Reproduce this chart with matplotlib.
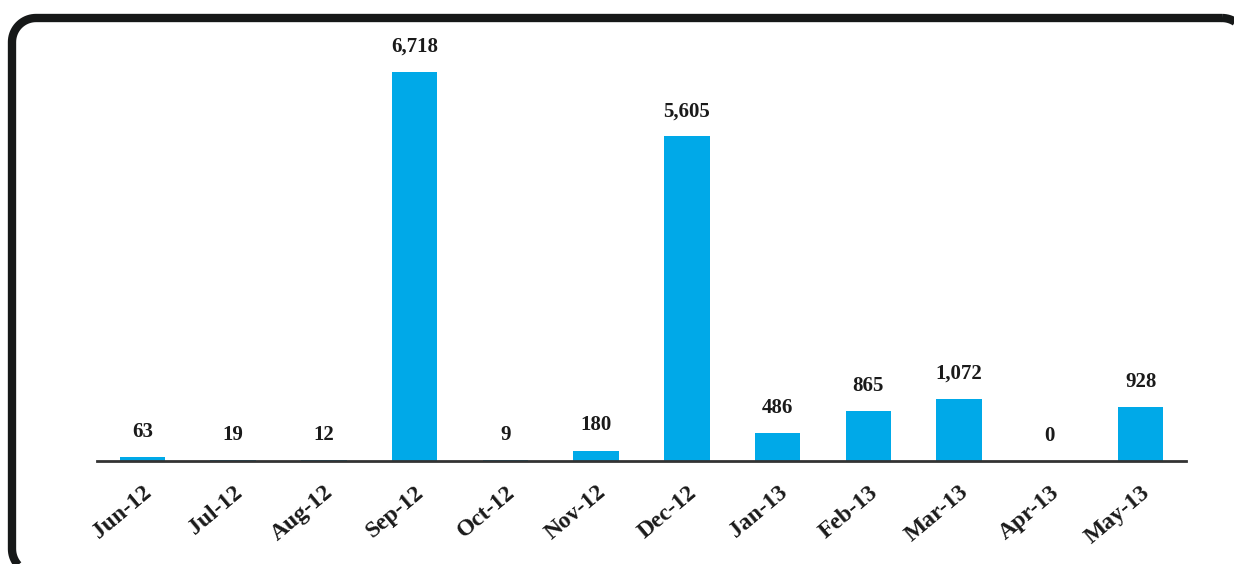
import numpy as np
import matplotlib.pyplot as plt
from matplotlib.path import Path
from matplotlib.patches import PathPatch

# data
months = ["Jun-12", "Jul-12", "Aug-12", "Sep-12", "Oct-12", "Nov-12",
          "Dec-12", "Jan-13", "Feb-13", "Mar-13", "Apr-13", "May-13"]
values = [63, 19, 12, 6718, 9, 180, 5605, 486, 865, 1072, 0, 928]

bar_color = "#00a9e8"
W, H = 1234, 564

fig = plt.figure(figsize=(W / 100, H / 100), dpi=100)
fig.patch.set_facecolor("white")

# rounded frame in pixel coords (y measured from top), runs off right/bottom
def rounded_box(x0, y0, x1, y1, r):
    pts = []
    corners = [(x1 - r, y0 + r, -90, 0), (x1 - r, y1 - r, 0, 90),
               (x0 + r, y1 - r, 90, 180), (x0 + r, y0 + r, 180, 270)]
    for cx, cy, a0, a1 in corners:
        t = np.radians(np.linspace(a0, a1, 20))
        pts += list(zip(cx + r * np.cos(t), cy + r * np.sin(t)))
    pts.append(pts[0])
    return Path(pts)

bg = fig.add_axes([0, 0, 1, 1], zorder=0)
bg.set_xlim(0, W)
bg.set_ylim(H, 0)
bg.axis("off")
bg.add_patch(PathPatch(rounded_box(12, 18, 1246, 573, 24), facecolor="none",
                       edgecolor="#161818", linewidth=6, joinstyle="round"))

ax = fig.add_axes([97 / W, (H - 461) / H, (1186 - 97) / W, 431 / H], zorder=1)
x = range(len(months))
ax.bar(x, values, width=0.5, color=bar_color, zorder=2)

ax.set_xlim(-0.5, len(months) - 0.5)
ax.set_ylim(0, 431 / 389 * 6718)

for i, v in enumerate(values):
    ax.annotate(f"{v:,}", (i, v), xytext=(0, 11), textcoords="offset points",
                ha="center", va="bottom", fontsize=15, fontweight="bold",
                family="Liberation Serif", color="#1a1a1a")

ax.set_xticks(list(x))
ax.set_xticklabels(months, rotation=40, ha="right", rotation_mode="anchor",
                   fontsize=17, fontweight="bold", family="Liberation Serif",
                   color="#1a1a1a")
ax.tick_params(axis="x", length=0, pad=15)
ax.set_yticks([])

for s in ["top", "left", "right"]:
    ax.spines[s].set_visible(False)
ax.spines["bottom"].set_linewidth(2)
ax.spines["bottom"].set_color("#333333")
ax.spines["bottom"].set_zorder(3)
ax.patch.set_alpha(0)

fig.savefig("out.png", dpi=100)
